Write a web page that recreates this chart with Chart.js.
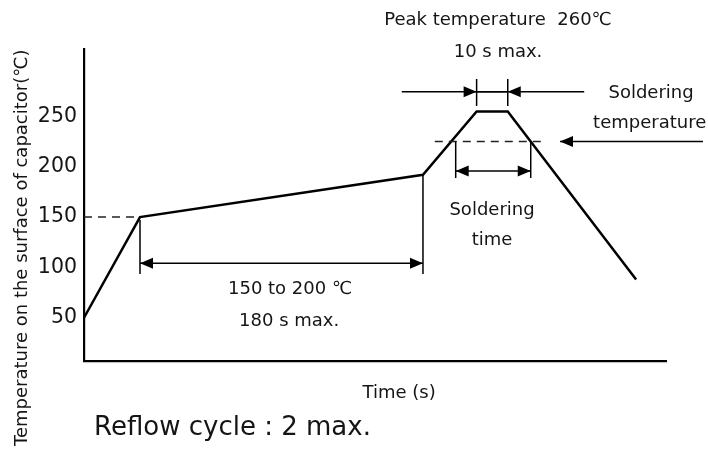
<!DOCTYPE html>
<html>
<head>
<meta charset="utf-8">
<title>Reflow profile</title>
<script src="https://cdn.jsdelivr.net/npm/chart.js@4.4.1/dist/chart.umd.min.js"></script>
<style>
  html, body { margin: 0; padding: 0; background: #fff; }
</style>
</head>
<body>
<canvas id="myChart" width="708" height="451"></canvas>
<script>
// profile points: time (s) and surface temperature (℃)
const times = [0, 35.6, 215.5, 249.6, 269.4, 351];
const temps = [50, 150, 192, 255, 255, 88];
const yTicks = [50, 100, 150, 200, 250];
const solderTemp = 225;
const solderTime = [236.3, 284];

const FONT = '"DejaVu Sans", Verdana, sans-serif';
const INK = '#151515';

function line(ctx, x1, y1, x2, y2) {
  ctx.beginPath();
  ctx.moveTo(x1, y1);
  ctx.lineTo(x2, y2);
  ctx.stroke();
}

// dir 1 = tip points right, -1 = tip points left
function head(ctx, x, y, dir) {
  ctx.beginPath();
  ctx.moveTo(x, y);
  ctx.lineTo(x - dir * 13, y - 5.5);
  ctx.lineTo(x - dir * 13, y + 5.5);
  ctx.closePath();
  ctx.fill();
}

const notes = {
  id: 'notes',
  afterDraw(chart) {
    const {ctx, chartArea} = chart;
    const px = t => chart.scales.x.getPixelForValue(t);
    const py = v => chart.scales.y.getPixelForValue(v);

    ctx.save();
    ctx.strokeStyle = '#000';
    ctx.fillStyle = '#000';
    ctx.lineWidth = 1.5;

    // dashed guide lines
    ctx.strokeStyle = '#222';
    ctx.setLineDash([8, 6]);
    line(ctx, px(0), py(temps[1]), px(times[1]), py(temps[1]));
    line(ctx, px(223), py(solderTemp), px(293), py(solderTemp));
    ctx.setLineDash([]);
    ctx.strokeStyle = '#000';

    // preheat span
    line(ctx, px(times[1]), py(temps[1]) + 3, px(times[1]), py(93.4));
    line(ctx, px(times[2]), py(temps[2]), px(times[2]), py(93.4));
    line(ctx, px(times[1]), py(104), px(times[2]), py(104));
    head(ctx, px(times[1]), py(104), -1);
    head(ctx, px(times[2]), py(104), 1);

    // peak window
    line(ctx, px(times[3]), py(287.2), px(times[3]), py(260.4));
    line(ctx, px(times[4]), py(287.2), px(times[4]), py(260.4));
    line(ctx, px(202), py(274.6), px(times[4]), py(274.6));
    line(ctx, px(318), py(274.6), px(times[3]), py(274.6));
    head(ctx, px(times[3]), py(274.6), 1);
    head(ctx, px(times[4]), py(274.6), -1);

    // soldering time
    line(ctx, px(solderTime[0]), py(solderTemp), px(solderTime[0]), py(188.8));
    line(ctx, px(solderTime[1]), py(solderTemp), px(solderTime[1]), py(188.8));
    line(ctx, px(solderTime[0]), py(195.8), px(solderTime[1]), py(195.8));
    head(ctx, px(solderTime[0]), py(195.8), -1);
    head(ctx, px(solderTime[1]), py(195.8), 1);

    // soldering temperature pointer
    line(ctx, px(393.5), py(solderTemp), px(302.6), py(solderTemp));
    head(ctx, px(302.6), py(solderTemp), -1);

    // labels
    ctx.fillStyle = INK;
    ctx.font = '18px ' + FONT;
    ctx.textAlign = 'center';
    ctx.textBaseline = 'middle';
    ctx.fillText('Peak temperature  260℃', px(263.2), py(345.8));
    ctx.fillText('10 s max.', px(263.2), py(314));
    ctx.fillText('Soldering', px(360.5), py(273.3));
    ctx.fillText('temperature', px(359.6), py(243.5));
    ctx.fillText('Soldering', px(259.4), py(157));
    ctx.fillText('time', px(259.4), py(127.2));
    ctx.fillText('150 to 200 ℃', px(131), py(78.5));
    ctx.fillText('180 s max.', px(130.4), py(46.7));
    ctx.fillText('Time (s)', px(200.3), chartArea.bottom + 32);

    // y axis title
    ctx.save();
    ctx.translate(chartArea.left - 57, chartArea.bottom + 85);
    ctx.rotate(-Math.PI / 2);
    ctx.textAlign = 'left';
    ctx.textBaseline = 'alphabetic';
    ctx.fillText('Temperature on the surface of capacitor(℃)', 0, 0);
    ctx.restore();

    ctx.textAlign = 'left';
    ctx.textBaseline = 'alphabetic';
    ctx.font = '26px ' + FONT;
    ctx.fillText('Reflow cycle : 2 max.', 94, chartArea.bottom + 74);
    ctx.restore();
  }
};

const data = {
  datasets: [{
    data: times.map((t, i) => ({x: t, y: temps[i]})),
    borderColor: '#000',
    borderWidth: 2.5,
    pointRadius: 0,
    tension: 0,
    fill: false
  }]
};

const config = {
  type: 'line',
  data,
  options: {
    responsive: false,
    animation: false,
    layout: {padding: {left: 0, top: 49, right: 42, bottom: 90}},
    plugins: {legend: {display: false}, tooltip: {enabled: false}},
    scales: {
      x: {
        type: 'linear',
        min: 0,
        max: 370,
        grid: {display: false, drawTicks: false},
        border: {color: '#000', width: 2.2},
        ticks: {display: false},
        afterFit: s => { s.height = 0; s.paddingLeft = 0; s.paddingRight = 0; }
      },
      y: {
        min: 7,
        max: 317,
        grid: {display: false, drawTicks: false},
        border: {color: '#000', width: 2.2},
        ticks: {color: INK, padding: 7, font: {family: FONT, size: 20.5}},
        afterBuildTicks: s => { s.ticks = yTicks.map(v => ({value: v})); },
        afterFit: s => { s.width = 84; s.paddingTop = 0; s.paddingBottom = 0; }
      }
    }
  },
  plugins: [notes]
};

const myChart = new Chart(document.getElementById('myChart'), config);
</script>
</body>
</html>
